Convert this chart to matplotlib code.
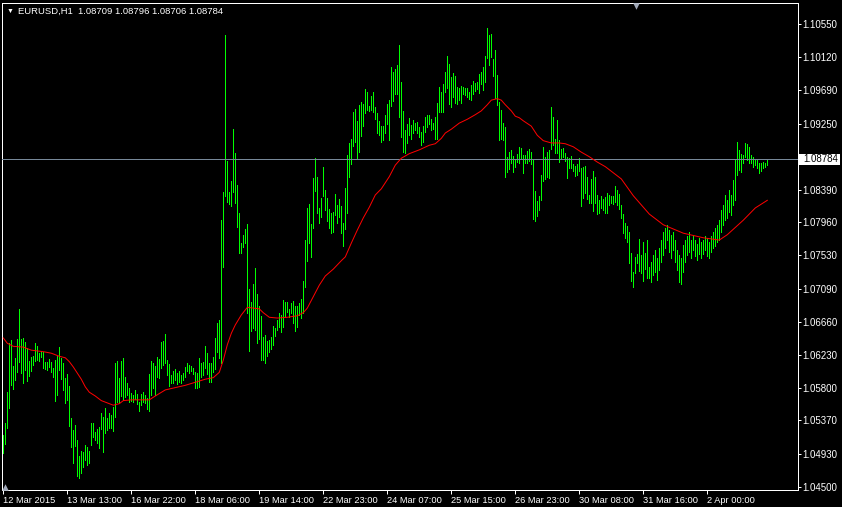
import matplotlib
matplotlib.use("Agg")
import matplotlib.pyplot as plt
from matplotlib.patches import Rectangle
from matplotlib.transforms import blended_transform_factory

plt.rcParams['font.family'] = ['Liberation Sans', 'DejaVu Sans']

# EURUSD H1, 383 bars (high / low)
highs = [
    1.0518, 1.0534, 1.0574, 1.0638, 1.0642, 1.0608, 1.0619, 1.0644, 1.0683, 1.0644,
    1.0645, 1.0640, 1.0632, 1.0615, 1.0620, 1.0621, 1.0638, 1.0634, 1.0625, 1.0628,
    1.0627, 1.0614, 1.0614, 1.0617, 1.0614, 1.0606, 1.0616, 1.0621, 1.0633, 1.0619,
    1.0612, 1.0593, 1.0598, 1.0582, 1.0540, 1.0525, 1.0531, 1.0512, 1.0491, 1.0497,
    1.0496, 1.0505, 1.0502, 1.0497, 1.0534, 1.0534, 1.0522, 1.0526, 1.0529, 1.0547,
    1.0542, 1.0553, 1.0540, 1.0547, 1.0544, 1.0555, 1.0612, 1.0615, 1.0593, 1.0615,
    1.0619, 1.0594, 1.0586, 1.0580, 1.0573, 1.0570, 1.0577, 1.0572, 1.0561, 1.0572,
    1.0574, 1.0570, 1.0566, 1.0598, 1.0615, 1.0612, 1.0608, 1.0620, 1.0617, 1.0640,
    1.0641, 1.0650, 1.0616, 1.0611, 1.0597, 1.0602, 1.0604, 1.0599, 1.0602, 1.0597,
    1.0599, 1.0607, 1.0612, 1.0610, 1.0608, 1.0606, 1.0600, 1.0599, 1.0619, 1.0612,
    1.0614, 1.0634, 1.0625, 1.0612, 1.0612, 1.0620, 1.0645, 1.0665, 1.0668, 1.0799,
    1.0836, 1.1041, 1.0876, 1.0836, 1.0850, 1.0918, 1.0887, 1.0845, 1.0808, 1.0769,
    1.0780, 1.0788, 1.0794, 1.0709, 1.0692, 1.0716, 1.0737, 1.0702, 1.0687, 1.0674,
    1.0646, 1.0649, 1.0641, 1.0642, 1.0646, 1.0661, 1.0658, 1.0668, 1.0678, 1.0675,
    1.0695, 1.0692, 1.0692, 1.0683, 1.0691, 1.0693, 1.0687, 1.0687, 1.0691, 1.0696,
    1.0720, 1.0773, 1.0815, 1.0820, 1.0794, 1.0854, 1.0880, 1.0856, 1.0815, 1.0828,
    1.0869, 1.0839, 1.0828, 1.0814, 1.0808, 1.0810, 1.0833, 1.0819, 1.0827, 1.0818,
    1.0795, 1.0841, 1.0884, 1.0900, 1.0905, 1.0941, 1.0944, 1.0929, 1.0950, 1.0954,
    1.0951, 1.0971, 1.0967, 1.0948, 1.0961, 1.0967, 1.0947, 1.0939, 1.0929, 1.0922,
    1.0922, 1.0937, 1.0951, 1.0956, 1.0999, 1.0993, 1.0997, 1.1002, 1.1028, 1.0980,
    1.0942, 1.0917, 1.0925, 1.0933, 1.0924, 1.0930, 1.0926, 1.0927, 1.0921, 1.0914,
    1.0922, 1.0934, 1.0937, 1.0937, 1.0931, 1.0926, 1.0934, 1.0952, 1.0973, 1.0967,
    1.0977, 1.0993, 1.1014, 1.1003, 1.0986, 1.0992, 1.0988, 1.0973, 1.0972, 1.0975,
    1.0973, 1.0972, 1.0972, 1.0967, 1.0976, 1.0981, 1.0978, 1.0980, 1.0990, 1.0993,
    1.0999, 1.1014, 1.1050, 1.1041, 1.1043, 1.1010, 1.1022, 1.0989, 1.0954, 1.0943,
    1.0926, 1.0921, 1.0882, 1.0888, 1.0891, 1.0883, 1.0879, 1.0886, 1.0895, 1.0893,
    1.0884, 1.0884, 1.0890, 1.0892, 1.0888, 1.0878, 1.0837, 1.0824, 1.0831, 1.0858,
    1.0895, 1.0882, 1.0888, 1.0891, 1.0947, 1.0934, 1.0905, 1.0930, 1.0904, 1.0892,
    1.0893, 1.0887, 1.0882, 1.0880, 1.0883, 1.0873, 1.0870, 1.0873, 1.0880, 1.0867,
    1.0869, 1.0870, 1.0856, 1.0832, 1.0853, 1.0863, 1.0856, 1.0832, 1.0825, 1.0831,
    1.0827, 1.0829, 1.0835, 1.0832, 1.0831, 1.0831, 1.0844, 1.0839, 1.0833, 1.0819,
    1.0807, 1.0795, 1.0791, 1.0784, 1.0756, 1.0731, 1.0751, 1.0755, 1.0774, 1.0753,
    1.0771, 1.0756, 1.0773, 1.0738, 1.0744, 1.0754, 1.0760, 1.0750, 1.0763, 1.0773,
    1.0784, 1.0789, 1.0793, 1.0786, 1.0780, 1.0784, 1.0773, 1.0760, 1.0754, 1.0750,
    1.0767, 1.0773, 1.0778, 1.0784, 1.0773, 1.0778, 1.0773, 1.0768, 1.0776, 1.0771,
    1.0773, 1.0778, 1.0776, 1.0771, 1.0778, 1.0784, 1.0789, 1.0793, 1.0799, 1.0812,
    1.0819, 1.0832, 1.0825, 1.0839, 1.0832, 1.0852, 1.0878, 1.0901, 1.0891, 1.0886,
    1.0884, 1.0900, 1.0899, 1.0895, 1.0884, 1.0882, 1.0879, 1.0878, 1.0874, 1.0874,
    1.0875, 1.0874, 1.08796,
]
lows = [
    1.0494, 1.0506, 1.0527, 1.0553, 1.0583, 1.0578, 1.0590, 1.0600, 1.0613, 1.0599,
    1.0586, 1.0603, 1.0589, 1.0595, 1.0602, 1.0610, 1.0615, 1.0616, 1.0615, 1.0620,
    1.0606, 1.0604, 1.0603, 1.0607, 1.0600, 1.0594, 1.0563, 1.0570, 1.0603, 1.0591,
    1.0577, 1.0560, 1.0564, 1.0530, 1.0502, 1.0481, 1.0504, 1.0464, 1.0462, 1.0468,
    1.0476, 1.0485, 1.0479, 1.0481, 1.0505, 1.0515, 1.0512, 1.0508, 1.0501, 1.0526,
    1.0496, 1.0521, 1.0525, 1.0527, 1.0527, 1.0523, 1.0542, 1.0561, 1.0560, 1.0569,
    1.0564, 1.0568, 1.0570, 1.0561, 1.0563, 1.0561, 1.0565, 1.0559, 1.0549, 1.0557,
    1.0561, 1.0560, 1.0552, 1.0549, 1.0570, 1.0580, 1.0570, 1.0594, 1.0593, 1.0606,
    1.0610, 1.0612, 1.0597, 1.0582, 1.0586, 1.0586, 1.0590, 1.0585, 1.0587, 1.0586,
    1.0590, 1.0594, 1.0602, 1.0599, 1.0602, 1.0598, 1.0580, 1.0580, 1.0581, 1.0594,
    1.0597, 1.0606, 1.0598, 1.0587, 1.0587, 1.0600, 1.0604, 1.0627, 1.0619, 1.0612,
    1.0738, 1.0831, 1.0823, 1.0820, 1.0818, 1.0836, 1.0822, 1.0790, 1.0756, 1.0756,
    1.0764, 1.0769, 1.0678, 1.0628, 1.0654, 1.0658, 1.0655, 1.0638, 1.0644, 1.0616,
    1.0616, 1.0612, 1.0621, 1.0627, 1.0631, 1.0636, 1.0648, 1.0655, 1.0659, 1.0653,
    1.0659, 1.0672, 1.0679, 1.0672, 1.0678, 1.0665, 1.0654, 1.0659, 1.0675, 1.0671,
    1.0678, 1.0712, 1.0746, 1.0769, 1.0751, 1.0789, 1.0837, 1.0808, 1.0795, 1.0803,
    1.0831, 1.0812, 1.0798, 1.0789, 1.0782, 1.0784, 1.0806, 1.0795, 1.0803, 1.0782,
    1.0765, 1.0788, 1.0808, 1.0856, 1.0873, 1.0896, 1.0901, 1.0880, 1.0888, 1.0909,
    1.0922, 1.0939, 1.0943, 1.0942, 1.0943, 1.0941, 1.0931, 1.0913, 1.0910, 1.0901,
    1.0904, 1.0913, 1.0925, 1.0904, 1.0948, 1.0955, 1.0964, 1.0964, 1.0934, 1.0908,
    1.0888, 1.0887, 1.0900, 1.0910, 1.0905, 1.0913, 1.0917, 1.0913, 1.0908, 1.0897,
    1.0901, 1.0914, 1.0921, 1.0925, 1.0917, 1.0918, 1.0905, 1.0905, 1.0941, 1.0941,
    1.0941, 1.0967, 1.0972, 1.0951, 1.0947, 1.0960, 1.0952, 1.0951, 1.0956, 1.0952,
    1.0964, 1.0963, 1.0960, 1.0958, 1.0956, 1.0964, 1.0968, 1.0971, 1.0965, 1.0977,
    1.0969, 1.0980, 1.1011, 1.1002, 1.1012, 1.0988, 1.0959, 1.0950, 1.0904, 1.0905,
    1.0904, 1.0856, 1.0862, 1.0866, 1.0874, 1.0862, 1.0869, 1.0875, 1.0874, 1.0880,
    1.0861, 1.0874, 1.0874, 1.0876, 1.0873, 1.0801, 1.0798, 1.0805, 1.0812, 1.0825,
    1.0850, 1.0853, 1.0856, 1.0854, 1.0892, 1.0897, 1.0887, 1.0887, 1.0875, 1.0880,
    1.0882, 1.0876, 1.0854, 1.0867, 1.0867, 1.0863, 1.0857, 1.0858, 1.0863, 1.0818,
    1.0828, 1.0835, 1.0827, 1.0822, 1.0822, 1.0811, 1.0822, 1.0807, 1.0808, 1.0815,
    1.0812, 1.0808, 1.0808, 1.0819, 1.0822, 1.0820, 1.0823, 1.0819, 1.0814, 1.0802,
    1.0782, 1.0776, 1.0771, 1.0743, 1.0720, 1.0712, 1.0730, 1.0743, 1.0733, 1.0730,
    1.0720, 1.0735, 1.0723, 1.0723, 1.0718, 1.0727, 1.0731, 1.0721, 1.0734, 1.0744,
    1.0754, 1.0763, 1.0773, 1.0757, 1.0750, 1.0760, 1.0744, 1.0734, 1.0718, 1.0716,
    1.0731, 1.0744, 1.0754, 1.0757, 1.0750, 1.0760, 1.0752, 1.0747, 1.0755, 1.0750,
    1.0755, 1.0760, 1.0752, 1.0750, 1.0757, 1.0763, 1.0765, 1.0771, 1.0773, 1.0784,
    1.0793, 1.0799, 1.0802, 1.0810, 1.0806, 1.0819, 1.0825, 1.0858, 1.0865, 1.0862,
    1.0874, 1.0882, 1.0878, 1.0874, 1.0874, 1.0869, 1.0871, 1.0867, 1.0861, 1.0863,
    1.0867, 1.0869, 1.08706,
]
bars = list(range(len(highs)))

# moving average (red line), read at these bar numbers
ma_bars = [0, 2, 5, 10, 14, 20, 24, 28, 31, 33, 35, 37, 39, 41, 43, 46, 49, 52, 55, 58,
           60, 64, 73, 76, 81, 86, 91, 96, 101, 105, 108, 110, 112, 114, 116, 119, 122, 125, 128, 130,
           133, 137, 142, 147, 150, 152, 155, 158, 161, 165, 169, 171, 174, 177, 180, 183, 186, 189, 193, 196,
           199, 203, 208, 213, 216, 219, 221, 224, 228, 232, 236, 239, 242, 244, 247, 249, 251, 254, 256, 258,
           260, 264, 267, 270, 274, 278, 281, 285, 289, 293, 297, 301, 305, 309, 312, 315, 318, 323, 330, 340,
           350, 358, 362, 370, 376, 382]
ma_values = [1.0645, 1.0638, 1.0634, 1.0633, 1.0629, 1.0627, 1.0625, 1.0621, 1.0619, 1.0614,
             1.0607, 1.0599, 1.0591, 1.0581, 1.0574, 1.0569, 1.0563, 1.0560, 1.0557, 1.0559,
             1.0563, 1.0564, 1.0564, 1.0569, 1.0577, 1.0580, 1.0583, 1.0587, 1.0591, 1.0593,
             1.0600, 1.0616, 1.0636, 1.0651, 1.0662, 1.0675, 1.0685, 1.0684, 1.0683, 1.0678,
             1.0672, 1.0671, 1.0672, 1.0674, 1.0678, 1.0684, 1.0699, 1.0714, 1.0726, 1.0735,
             1.0746, 1.0751, 1.0769, 1.0786, 1.0802, 1.0816, 1.0832, 1.0840, 1.0856, 1.0871,
             1.0880, 1.0886, 1.0891, 1.0897, 1.0899, 1.0906, 1.0913, 1.0918, 1.0926, 1.0931,
             1.0937, 1.0942, 1.0950, 1.0956, 1.0958, 1.0956, 1.0950, 1.0942, 1.0935, 1.0933,
             1.0929, 1.0922, 1.0910, 1.0903, 1.0900, 1.0900, 1.0899, 1.0895, 1.0888, 1.0882,
             1.0875, 1.0869, 1.0861, 1.0853, 1.0842, 1.0831, 1.0822, 1.0807, 1.0793, 1.0782,
             1.0776, 1.0773, 1.0780, 1.0799, 1.0815, 1.0825]

last_price = 1.08784
price_ticks = [1.10550, 1.10120, 1.09690, 1.09250, 1.08390, 1.07960, 1.07530,
               1.07090, 1.06660, 1.06230, 1.05800, 1.05370, 1.04930, 1.04500]
date_ticks = [0, 32, 64, 96, 128, 160, 192, 224, 256, 288, 320, 352]
date_labels = ["12 Mar 2015", "13 Mar 13:00", "16 Mar 22:00", "18 Mar 06:00",
               "19 Mar 14:00", "22 Mar 23:00", "24 Mar 07:00", "25 Mar 15:00",
               "26 Mar 23:00", "30 Mar 08:00", "31 Mar 16:00", "2 Apr 00:00"]
title = "EURUSD,H1  1.08709 1.08796 1.08706 1.08784"

W, H = 842, 507
fig = plt.figure(figsize=(W / 100, H / 100), dpi=100, facecolor='black')
ax = fig.add_axes([2 / W, 17 / H, 795.5 / W, 487 / H], facecolor='black')

px = 0.72  # one pixel in points
ax.vlines(bars, lows, highs, colors='#00ff00', linewidth=px, antialiased=False, zorder=2)
ax.axhline(last_price, color='#778899', linewidth=px, zorder=3)
ax.plot(ma_bars, ma_values, color='#ff0000', linewidth=px, zorder=4)

ax.set_xlim(-0.65, 397.1)
ax.set_ylim(1.1087 - 0.0001308 * 490, 1.1087 - 0.0001308 * 3)

for s in ax.spines.values():
    s.set_color('white')
    s.set_linewidth(px)

ax.yaxis.tick_right()
ax.set_yticks(price_ticks)
ax.set_yticklabels(["%.5f" % p for p in price_ticks])
ax.tick_params(axis='y', colors='white', length=2.2, width=px, pad=1.5, labelsize=7)

ax.set_xticks(date_ticks)
ax.set_xticklabels(date_labels)
ax.tick_params(axis='x', colors='white', length=2.9, width=px, pad=1.5, labelsize=6.7)
for lbl in ax.get_xticklabels():
    lbl.set_horizontalalignment('left')

# current price label on the right scale
tr = blended_transform_factory(ax.transAxes, ax.transData)
ax.add_patch(Rectangle((1.0008, last_price - 0.00066), 0.053, 0.00132, transform=tr,
                       facecolor='white', edgecolor='none', clip_on=False, zorder=5))
ax.text(1.0068, last_price, "%.5f" % last_price, transform=tr, color='black',
        fontsize=7, ha='left', va='center', zorder=6)

# title and small markers
fig.text(7 / W, 1 - 11.5 / H, "\u25bc", color='white', fontsize=5, va='center')
fig.text(18 / W, 1 - 11 / H, title, color='white', fontsize=6.8, va='center')
ax.scatter([0.797], [0.993], marker='v', s=22, color='#a0a8b8', transform=ax.transAxes,
           clip_on=False, zorder=5, linewidths=0)
ax.scatter([0.004], [0.007], marker='^', s=22, color='#a0a8b8', transform=ax.transAxes,
           clip_on=False, zorder=5, linewidths=0)

fig.savefig('out.png', dpi=100, facecolor='black')
